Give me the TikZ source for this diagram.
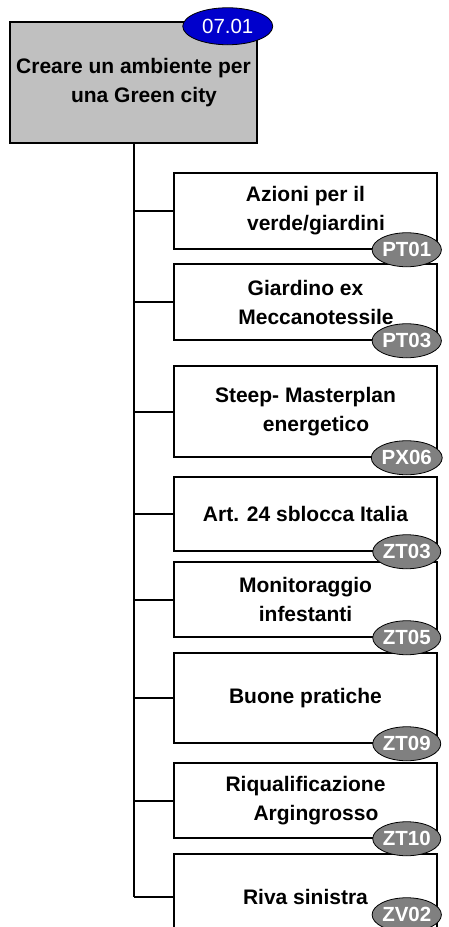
\documentclass[tikz,border=0pt]{standalone}
\usepackage{fontspec}
\setmainfont{Liberation Sans}
\usetikzlibrary{shapes.geometric, positioning}

\definecolor{rootgray}{HTML}{C0C0C0}
\definecolor{taggray}{HTML}{808080}
\definecolor{tagblue}{HTML}{0000CC}

\newcommand\boxfont{\fontsize{21}{29}\selectfont\bfseries}
\newcommand\tagfont{\fontsize{20.5}{24}\selectfont\bfseries}
\newcommand\roottagfont{\fontsize{20.5}{24}\selectfont}
\newcommand\ind{\hspace*{1em}}

\begin{document}
\begin{tikzpicture}[
    x=1pt, y=-1pt,
    rootbox/.style={
        draw=black,
        line width=1.5pt,
        fill=rootgray,
        minimum width=247pt,
        minimum height=121pt,
        inner sep=0pt,
        align=center,
        font=\boxfont
    },
    taskbox/.style={
        draw=black,
        line width=1.5pt,
        fill=white,
        minimum width=263pt,
        inner sep=0pt,
        align=center,
        font=\boxfont
    },
    codetag/.style={
        ellipse,
        draw=black,
        line width=0.8pt,
        fill=taggray,
        text=white,
        inner sep=0pt,
        minimum width=68pt,
        minimum height=34pt,
        font=\tagfont
    },
    roottag/.style={
        codetag,
        fill=tagblue,
        minimum width=90pt,
        minimum height=37pt,
        font=\roottagfont
    },
    link/.style={
        line width=2pt,
        black
    }
]

    \useasboundingbox (0,0) rectangle (448,927);
    \clip (0,0) rectangle (448,927);

    % Root of the tree
    \node[rootbox] (root) at (133.5,82.5) {Creare un ambiente per\\ \ind una Green city};

    % Tasks
    \node[taskbox, minimum height=76pt] (t1) at (305.5,211) {Azioni per il\\ \ind verde/giardini};
    \node[taskbox, minimum height=76pt] (t2) at (305.5,302) {Giardino ex\\ \ind Meccanotessile};
    \node[taskbox, minimum height=91pt] (t3) at (305.5,411.5) {Steep- Masterplan\\ \ind energetico};
    \node[taskbox, minimum height=74pt] (t4) at (305.5,514) {Art. 24 sblocca Italia};
    \node[taskbox, minimum height=75pt] (t5) at (305.5,599.5) {Monitoraggio\\ infestanti};
    \node[taskbox, minimum height=90pt] (t6) at (305.5,698) {Buone pratiche};
    \node[taskbox, minimum height=75pt] (t7) at (305.5,800.5) {Riqualificazione\\ \ind Argingrosso};
    \node[taskbox, minimum height=86pt] (t8) at (305.5,897) {Riva sinistra};

    % Connectors
    \draw[link] (root.south) -- (root.south |- t8.west);
    \foreach \n in {t1,t2,t3,t4,t5,t6,t7,t8}
        \draw[link] (root.south |- \n.west) -- (\n.west);

    % Codes
    \node[roottag] (c0) at ([xshift=-30pt, yshift=-5pt]root.north east) {07.01};
    \node[codetag] (c1) at ([xshift=-31pt]t1.south east) {PT01};
    \node[codetag] (c2) at ([xshift=-31pt]t2.south east) {PT03};
    \node[codetag] (c3) at ([xshift=-31pt]t3.south east) {PX06};
    \node[codetag] (c4) at ([xshift=-31pt]t4.south east) {ZT03};
    \node[codetag] (c5) at ([xshift=-31pt]t5.south east) {ZT05};
    \node[codetag] (c6) at ([xshift=-31pt]t6.south east) {ZT09};
    \node[codetag] (c7) at ([xshift=-31pt]t7.south east) {ZT10};
    \node[codetag] (c8) at ([xshift=-31pt, yshift=26pt]t8.south east) {ZV02};

\end{tikzpicture}
\end{document}
